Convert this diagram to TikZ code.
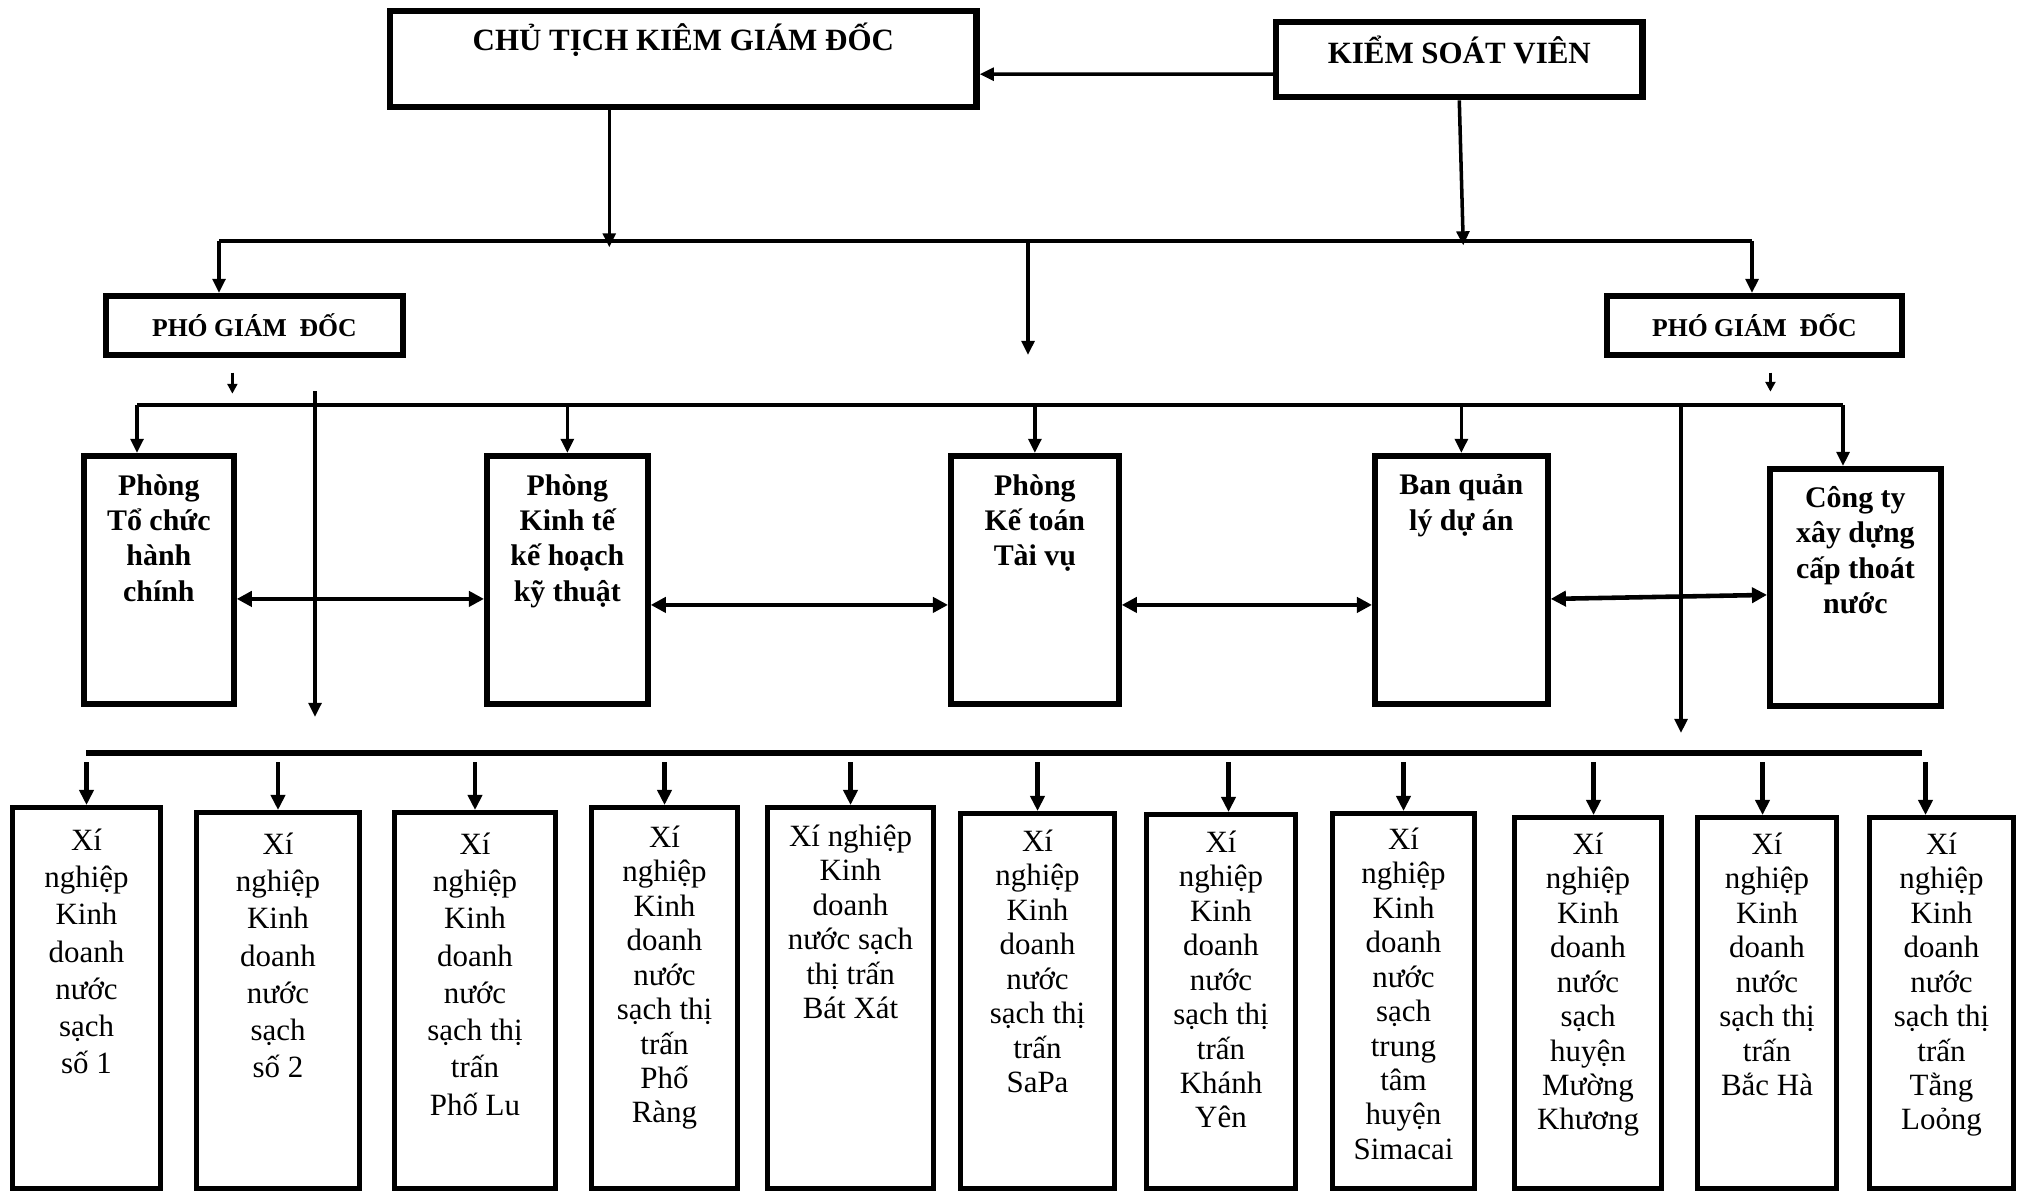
\documentclass[tikz,border=0pt]{standalone}
\usepackage{fontspec}
\setmainfont{Liberation Serif}
\usetikzlibrary{arrows.meta}
\tikzset{
  bx/.style={draw,line width=1.6pt,anchor=north west,inner sep=0pt},
  hd/.style={font=\fontsize{8.8}{10}\selectfont\bfseries},
  pg/.style={font=\fontsize{7.3}{9}\selectfont\bfseries},
  md/.style={anchor=north,inner sep=0pt,align=center,font=\fontsize{8.5}{10}\selectfont\bfseries,execute at begin node=\strut},
  lo/.style={anchor=north,inner sep=0pt,align=center,font=\fontsize{8.8}{9.8}\selectfont,execute at begin node=\strut},
  lw/.style={lo,font=\fontsize{8.8}{10.6}\selectfont},
  ln/.style={line width=1pt},
  ar/.style={line width=1pt,-{Triangle[length=4pt,width=3.6pt]}},
  sm/.style={line width=0.7pt,-{Triangle[length=2.8pt,width=2.8pt]}},
  dn/.style={line width=1.3pt,{Triangle[length=4.3pt,width=4pt]}-},
  dar/.style={line width=1.3pt,{Triangle[length=4.3pt,width=4.3pt]}-{Triangle[length=4.3pt,width=4.3pt]}}
}
\begin{document}
\begin{tikzpicture}[x=0.01cm,y=-0.01cm]
\useasboundingbox (0,0) rectangle (2022,1190);
%top level
\node[bx,line width=1.8pt,minimum width=5.86cm,minimum height=0.96cm] (ctgd) at (387,8) {};
\node[hd,anchor=base] (ctgdt) at ([yshift=-0.42cm]ctgd.north) {CHỦ TỊCH KIÊM GIÁM ĐỐC};
\node[bx,line width=1.8pt,minimum width=3.66cm,minimum height=0.75cm] (ksv) at (1273,19) {};
\node[hd,anchor=base] (ksvt) at ([yshift=-0.44cm]ksv.north) {KIỂM SOÁT VIÊN};
\draw[ar]([yshift=-0.145cm]ksv.west)--([yshift=-0.15cm]ctgd.east);
%first bus and deputies
\coordinate (q1) at (219,241);
\coordinate (q2) at (1752,241);
\draw[ln](q1)--(q2);
\draw[ar]([xshift=-0.74cm]ctgd.south)--++(0,137);
\draw[ar](ksv.south)--++(4,145);
\node[bx,minimum width=2.97cm,minimum height=0.59cm,pg] (pgd1) at (103,293) {PHÓ GIÁM~ ĐỐC};
\node[bx,minimum width=2.95cm,minimum height=0.59cm,pg] (pgd2) at (1604,293) {PHÓ GIÁM~ ĐỐC};
\draw[ar](q1)--(pgd1.north -| q1);
\draw[ar](q2)--(pgd2.north -| q2);
\coordinate (mid) at (1028,355);
\draw[ar](mid |- q1)--(mid);
\draw[sm]([xshift=-0.22cm,yshift=-0.15cm]pgd1.south)--++(0,21);
\draw[sm]([xshift=0.16cm,yshift=-0.15cm]pgd2.south)--++(0,19);
%second bus and departments
\coordinate (p1) at (137,405);
\coordinate (p2) at (1843,405);
\draw[ln](p1)--(p2);
\node[bx,minimum width=1.5cm,minimum height=2.48cm] (tchc) at (81,453) {};
\node[md] (tchct) at ([yshift=-0.21cm]tchc.north) {Phòng\\Tổ chức\\hành\\chính};
\node[bx,minimum width=1.61cm,minimum height=2.48cm] (kthk) at (484,453) {};
\node[md] (kthkt) at ([yshift=-0.21cm]kthk.north) {Phòng\\Kinh tế\\kế hoạch\\kỹ thuật};
\node[bx,minimum width=1.68cm,minimum height=2.48cm] (ktoan) at (948,453) {};
\node[md] (ktoant) at ([yshift=-0.21cm]ktoan.north) {Phòng\\Kế toán\\Tài vụ};
\node[bx,minimum width=1.73cm,minimum height=2.48cm] (bql) at (1372,453) {};
\node[md] (bqlt) at ([yshift=-0.21cm]bql.north) {Ban quản\\lý dự án};
\node[bx,minimum width=1.71cm,minimum height=2.37cm] (cty) at (1767,466) {};
\node[md] (ctyt) at ([yshift=-0.2cm]cty.north) {Công ty\\xây dựng\\cấp thoát\\nước};
\draw[ar](p1)--(tchc.north -| p1);
\draw[ar](kthk.north |- p1)--(kthk.north);
\draw[ar](ktoan.north |- p1)--(ktoan.north);
\draw[ar](bql.north |- p1)--(bql.north);
\draw[ar](p2)--(cty.north -| p2);
\draw[dar]([yshift=-0.19cm]tchc.east)--([yshift=-0.19cm]kthk.west);
\draw[dar]([yshift=-0.25cm]kthk.east)--([yshift=-0.25cm]ktoan.west);
\draw[dar]([yshift=-0.25cm]ktoan.east)--([yshift=-0.25cm]bql.west);
\draw[dar]([yshift=-0.19cm]bql.east)--([yshift=-0.075cm]cty.west);
%long lines down to the units
\coordinate (la) at (315,391);
\coordinate (lb) at (315,717);
\coordinate (ra) at (1681,407);
\coordinate (rb) at (1681,733);
\draw[ar](la)--(lb);
\draw[ar](ra)--(rb);
%third bus and units
\coordinate (bl) at (86,753);
\coordinate (br) at (1922,753);
\draw[line width=1.5pt](bl)--(br);
\node[bx,line width=1.4pt,minimum width=1.48cm,minimum height=3.81cm] (b1) at (10,805) {};
\node[lw] (b1t) at ([yshift=-0.23cm]b1.north) {Xí\\nghiệp\\Kinh\\doanh\\nước\\sạch\\số 1};
\node[bx,line width=1.4pt,minimum width=1.63cm,minimum height=3.76cm] (b2) at (194,810) {};
\node[lw] (b2t) at ([yshift=-0.22cm]b2.north) {Xí\\nghiệp\\Kinh\\doanh\\nước\\sạch\\số 2};
\node[bx,line width=1.4pt,minimum width=1.61cm,minimum height=3.76cm] (b3) at (392,810) {};
\node[lw] (b3t) at ([yshift=-0.22cm]b3.north) {Xí\\nghiệp\\Kinh\\doanh\\nước\\sạch thị\\trấn\\Phố Lu};
\node[bx,line width=1.4pt,minimum width=1.46cm,minimum height=3.81cm] (b4) at (589,805) {};
\node[lo] (b4t) at ([yshift=-0.2cm]b4.north) {Xí\\nghiệp\\Kinh\\doanh\\nước\\sạch thị\\trấn\\Phố\\Ràng};
\node[bx,line width=1.4pt,minimum width=1.66cm,minimum height=3.81cm] (b5) at (765,805) {};
\node[lo] (b5t) at ([yshift=-0.19cm]b5.north) {Xí nghiệp\\Kinh\\doanh\\nước sạch\\thị trấn\\Bát Xát};
\node[bx,line width=1.4pt,minimum width=1.54cm,minimum height=3.75cm] (b6) at (958,811) {};
\node[lo] (b6t) at ([yshift=-0.18cm]b6.north) {Xí\\nghiệp\\Kinh\\doanh\\nước\\sạch thị\\trấn\\SaPa};
\node[bx,line width=1.4pt,minimum width=1.49cm,minimum height=3.74cm] (b7) at (1144,812) {};
\node[lo] (b7t) at ([yshift=-0.18cm]b7.north) {Xí\\nghiệp\\Kinh\\doanh\\nước\\sạch thị\\trấn\\Khánh\\Yên};
\node[bx,line width=1.4pt,minimum width=1.42cm,minimum height=3.75cm] (b8) at (1330,811) {};
\node[lo] (b8t) at ([yshift=-0.16cm]b8.north) {Xí\\nghiệp\\Kinh\\doanh\\nước\\sạch\\trung\\tâm\\huyện\\Simacai};
\node[bx,line width=1.4pt,minimum width=1.47cm,minimum height=3.71cm] (b9) at (1512,815) {};
\node[lo] (b9t) at ([yshift=-0.17cm]b9.north) {Xí\\nghiệp\\Kinh\\doanh\\nước\\sạch\\huyện\\Mường\\Khương};
\node[bx,line width=1.4pt,minimum width=1.39cm,minimum height=3.71cm] (b10) at (1695,815) {};
\node[lo] (b10t) at ([yshift=-0.17cm]b10.north) {Xí\\nghiệp\\Kinh\\doanh\\nước\\sạch thị\\trấn\\Bắc Hà};
\node[bx,line width=1.4pt,minimum width=1.44cm,minimum height=3.71cm] (b11) at (1867,815) {};
\node[lo] (b11t) at ([yshift=-0.17cm]b11.north) {Xí\\nghiệp\\Kinh\\doanh\\nước\\sạch thị\\trấn\\Tằng\\Loỏng};
%arrows into the units
\draw[dn](b1.north)--++(0,-43);
\draw[dn](b2.north)--++(0,-48);
\draw[dn](b3.north)--++(0,-48);
\draw[dn](b4.north)--++(0,-43);
\draw[dn](b5.north)--++(0,-43);
\draw[dn](b6.north)--++(0,-49);
\draw[dn]([xshift=0.075cm]b7.north)--++(0,-50);
\draw[dn](b8.north)--++(0,-49);
\draw[dn]([xshift=0.055cm]b9.north)--++(0,-53);
\draw[dn]([xshift=-0.045cm]b10.north)--++(0,-53);
\draw[dn]([xshift=-0.16cm]b11.north)--++(0,-53);
\end{tikzpicture}
\end{document}
